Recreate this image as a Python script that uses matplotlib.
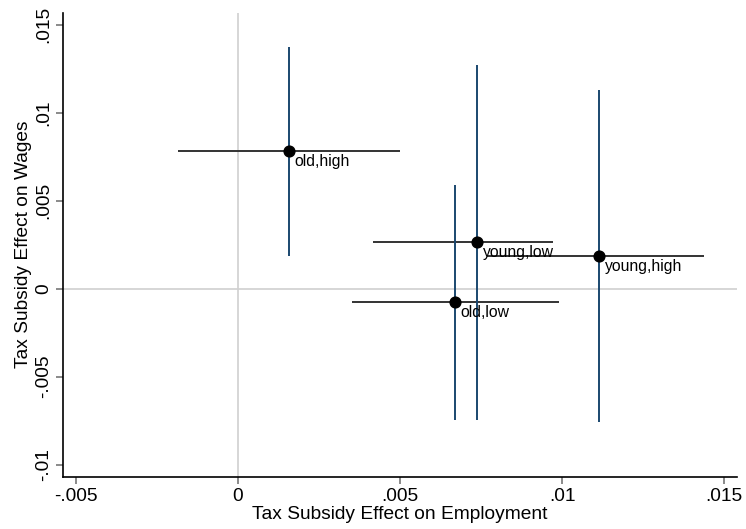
import matplotlib
matplotlib.use("Agg")
import matplotlib.pyplot as plt

plt.rcParams["font.family"] = ["Liberation Sans", "DejaVu Sans"]

# point estimates and 95% bounds
groups = ["old,high", "young,low", "young,high", "old,low"]
emp = [0.00157, 0.00738, 0.01114, 0.0067]
emp_lo = [-0.00185, 0.00417, 0.00769, 0.00352]
emp_hi = [0.0050, 0.00972, 0.01438, 0.00991]
wage = [0.00782, 0.00265, 0.00186, -0.00076]
wage_lo = [0.00186, -0.00746, -0.00757, -0.00746]
wage_hi = [0.01373, 0.01271, 0.01129, 0.00589]

xticks = [-0.005, 0, 0.005, 0.01, 0.015]
xtick_labels = ["-.005", "0", ".005", ".01", ".015"]
yticks = [-0.01, -0.005, 0, 0.005, 0.01, 0.015]
ytick_labels = ["-.01", "-.005", "0", ".005", ".01", ".015"]

fig = plt.figure(figsize=(7.46, 5.29), dpi=100)
ax = fig.add_axes([0.0849, 0.0989, 0.9026, 0.8771])

ax.axvline(0, color="#d0d0d0", lw=1.2, zorder=0)
ax.axhline(0, color="#d0d0d0", lw=1.2, zorder=0)

ax.hlines(wage, emp_lo, emp_hi, color="#333333", lw=1.4, zorder=2)
ax.vlines(emp, wage_lo, wage_hi, color="#1a476f", lw=1.4, zorder=2)
ax.scatter(emp, wage, s=60, color="black", zorder=3)

for x, y, g in zip(emp, wage, groups):
    ax.annotate(g, (x, y), xytext=(4, -2), textcoords="offset points",
                ha="left", va="top", fontsize=11.3, color="black", zorder=4)

ax.set_xlim(-0.00539, 0.01539)
ax.set_ylim(-0.01068, 0.01568)
ax.set_xticks(xticks)
ax.set_xticklabels(xtick_labels)
ax.set_yticks(yticks)
ax.set_yticklabels(ytick_labels, rotation=90, va="center")

ax.spines["top"].set_visible(False)
ax.spines["right"].set_visible(False)
for s in ["left", "bottom"]:
    ax.spines[s].set_linewidth(1.2)
    ax.spines[s].set_color("black")
ax.tick_params(length=5, width=1.2, color="#777777", labelsize=13.8, pad=3)

ax.set_xlabel("Tax Subsidy Effect on Employment", fontsize=13.8, labelpad=1)
ax.set_ylabel("Tax Subsidy Effect on Wages", fontsize=13.8, labelpad=2)

fig.savefig("out.png", dpi=100)
